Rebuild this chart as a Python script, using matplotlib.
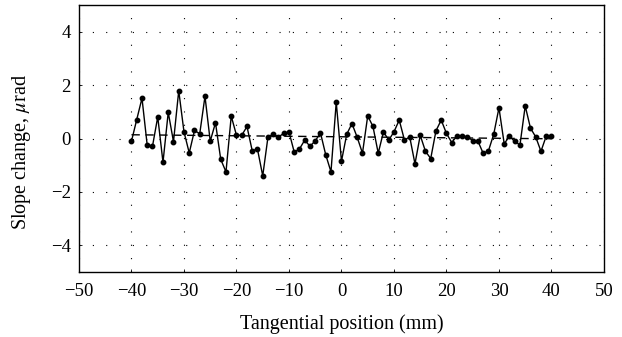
import numpy as np
import matplotlib
matplotlib.use('Agg')
import matplotlib.pyplot as plt

# measured slope change per tangential position (1 mm step)
positions = np.arange(-40, 41)
slope = [-0.10, 0.71, 1.51, -0.26, -0.29, 0.81, -0.89, 0.98, -0.12, 1.79,
         0.25, -0.54, 0.30, 0.18, 1.58, -0.10, 0.59, -0.78, -1.25, 0.84,
         0.12, 0.12, 0.45, -0.46, -0.40, -1.40, 0.06, 0.16, 0.06, 0.19,
         0.25, -0.51, -0.39, -0.06, -0.29, -0.09, 0.21, -0.61, -1.25, 1.36,
         -0.85, 0.16, 0.56, 0.04, -0.55, 0.85, 0.45, -0.55, 0.25, -0.06,
         0.25, 0.69, -0.06, 0.06, -0.95, 0.12, -0.48, -0.75, 0.29, 0.69,
         0.19, -0.15, 0.09, 0.09, 0.06, -0.08, -0.10, -0.56, -0.46, 0.16,
         1.15, -0.20, 0.09, -0.11, -0.24, 1.22, 0.39, 0.06, -0.48, 0.09,
         0.09]

# linear trend (dashed)
trend_x = [-40, 40]
trend_y = [0.14, -0.01]

x_ticks = [-50, -40, -30, -20, -10, 0, 10, 20, 30, 40, 50]
y_ticks = [-4, -2, 0, 2, 4]

plt.rcParams['font.family'] = ['Liberation Serif', 'DejaVu Serif']
plt.rcParams['mathtext.fontset'] = 'stix'
plt.rcParams['axes.unicode_minus'] = True

fs = 13.5

fig = plt.figure(figsize=(6.22, 3.37), dpi=100)
ax = fig.add_axes([0.127, 0.193, 0.844, 0.792])

ax.plot(trend_x, trend_y, color='black', lw=1.0, ls=(0, (6, 4)), zorder=2)
ax.plot(positions, slope, color='black', lw=1.0, marker='o', ms=3.2, zorder=3)

ax.set_xlim(-50, 50)
ax.set_ylim(-5, 5)
ax.set_xticks(x_ticks)
ax.set_yticks(y_ticks)
ax.grid(True, color='black', lw=0.8, ls=(0, (1, 11)))
ax.tick_params(direction='in', length=2, width=0.6, labelsize=fs)
ax.tick_params(axis='x', pad=8)
ax.tick_params(axis='y', pad=6)
for s in ax.spines.values():
    s.set_linewidth(1.0)

ax.set_xlabel('Tangential position (mm)', fontsize=14.5, labelpad=10)
ax.set_ylabel(r'Slope change, $\mu$rad', fontsize=14.5)
ax.yaxis.set_label_coords(-0.088, 0.451)

fig.savefig('out.png', dpi=100)
